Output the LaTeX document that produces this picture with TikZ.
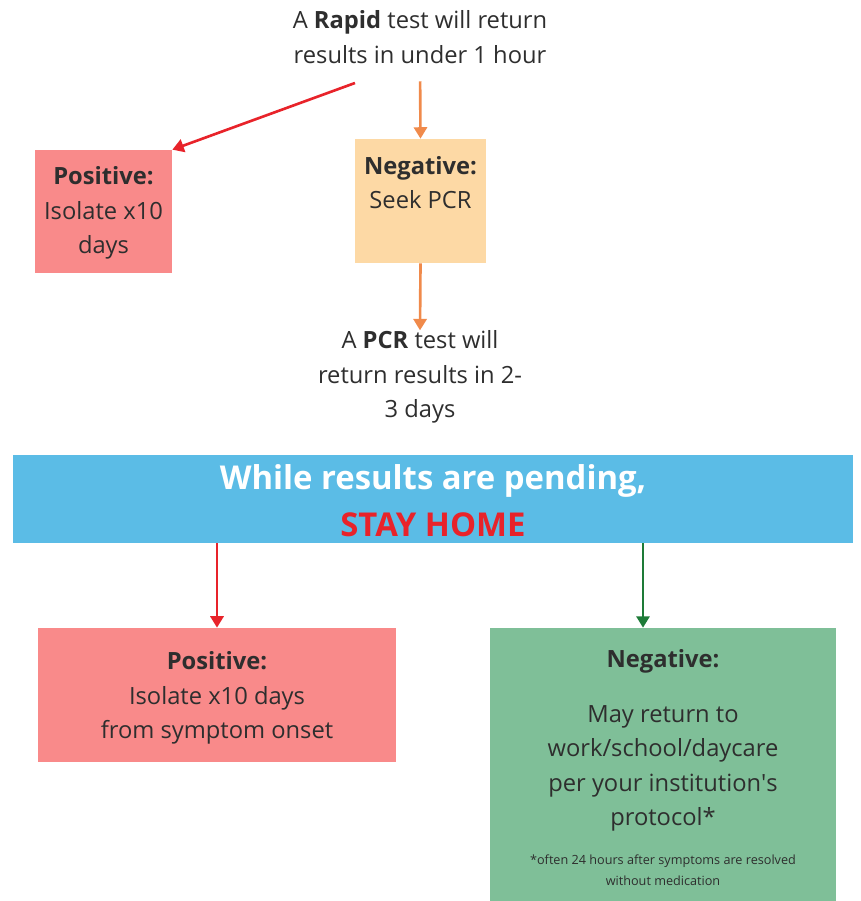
\documentclass[tikz,border=0pt]{standalone}
\usepackage{fontspec}
\setmainfont{Open Sans}
\usetikzlibrary{arrows.meta}

\definecolor{salmon}{HTML}{F98A8A}
\definecolor{peach}{HTML}{FDD9A5}
\definecolor{banner}{HTML}{5BBCE6}
\definecolor{mint}{HTML}{7FBF98}
\definecolor{alarm}{HTML}{E8232A}
\definecolor{carrot}{HTML}{F08A4B}
\definecolor{forest}{HTML}{1E7B38}
\definecolor{ink}{HTML}{2E2E2E}

\begin{document}
\begin{tikzpicture}[x=0.02cm,y=-0.02cm,
    box/.style={rectangle,inner sep=0pt},
    txt/.style={align=center,text=ink,inner sep=0pt,font=\fontsize{13.5}{19.6}\selectfont},
    arr/.style={-{Triangle[length=6.5pt,width=7.5pt]},line width=1.5pt}]
    \useasboundingbox (0,0) rectangle (860,901);

    % boxes
    \node[box,fill=salmon,minimum width=2.74cm,minimum height=2.46cm] (pos1) at (103.5,211.5) {};
    \node[box,fill=peach,minimum width=2.62cm,minimum height=2.48cm] (neg1) at (420.5,201) {};
    \node[box,fill=banner,minimum width=16.8cm,minimum height=1.76cm] (pend) at (433,499) {};
    \node[box,fill=salmon,minimum width=7.16cm,minimum height=2.68cm] (pos2) at (217,695) {};
    \node[box,fill=mint,minimum width=6.92cm,minimum height=5.46cm] (neg2) at (663,764.5) {};

    % texts
    \node[txt] (rapid) at (420,37) {A \textbf{Rapid} test will return\\results in under 1 hour};
    \node[txt] (pos1t) at (103.5,213) {\textbf{Positive:}\\Isolate x10\\days};
    \node[txt] (neg1t) at (420.5,182.5) {\textbf{Negative:}\\Seek PCR};
    \node[txt] (pcr) at (420,377) {A \textbf{PCR} test will\\return results in 2-\\3 days};
    \node[txt,text=white,font=\fontsize{18.7}{26.6}\selectfont\bfseries] (pendt) at (433,501)
        {While results are pending,\\\textcolor{alarm}{STAY HOME}};
    \node[txt] (pos2t) at (217,698) {\textbf{Positive:}\\Isolate x10 days\\from symptom onset};
    \node[txt] (neg2h) at (663,661) {\textbf{Negative:}};
    \node[txt] (neg2t) at (663,768.5) {May return to\\work/school/daycare\\per your institution\textquotesingle s\\protocol*};
    \node[txt,font=\fontsize{7.2}{12}\selectfont] (neg2n) at (663,870.5)
        {*often 24 hours after symptoms are resolved\\without medication};

    % arrows
    \coordinate (rs) at (355,83);
    \coordinate (gs) at (643,543);
    \draw[arr,alarm] (rs) -- (pos1.north east);
    \draw[arr,carrot,shorten <=10pt] (rapid.south) -- (neg1.north);
    \draw[arr,carrot] (neg1.south) -- (pcr.north);
    \draw[arr,alarm] (pos2.north |- pend.south) -- (pos2.north);
    \draw[arr,forest] (gs) -- (gs |- neg2.north);
\end{tikzpicture}
\end{document}
